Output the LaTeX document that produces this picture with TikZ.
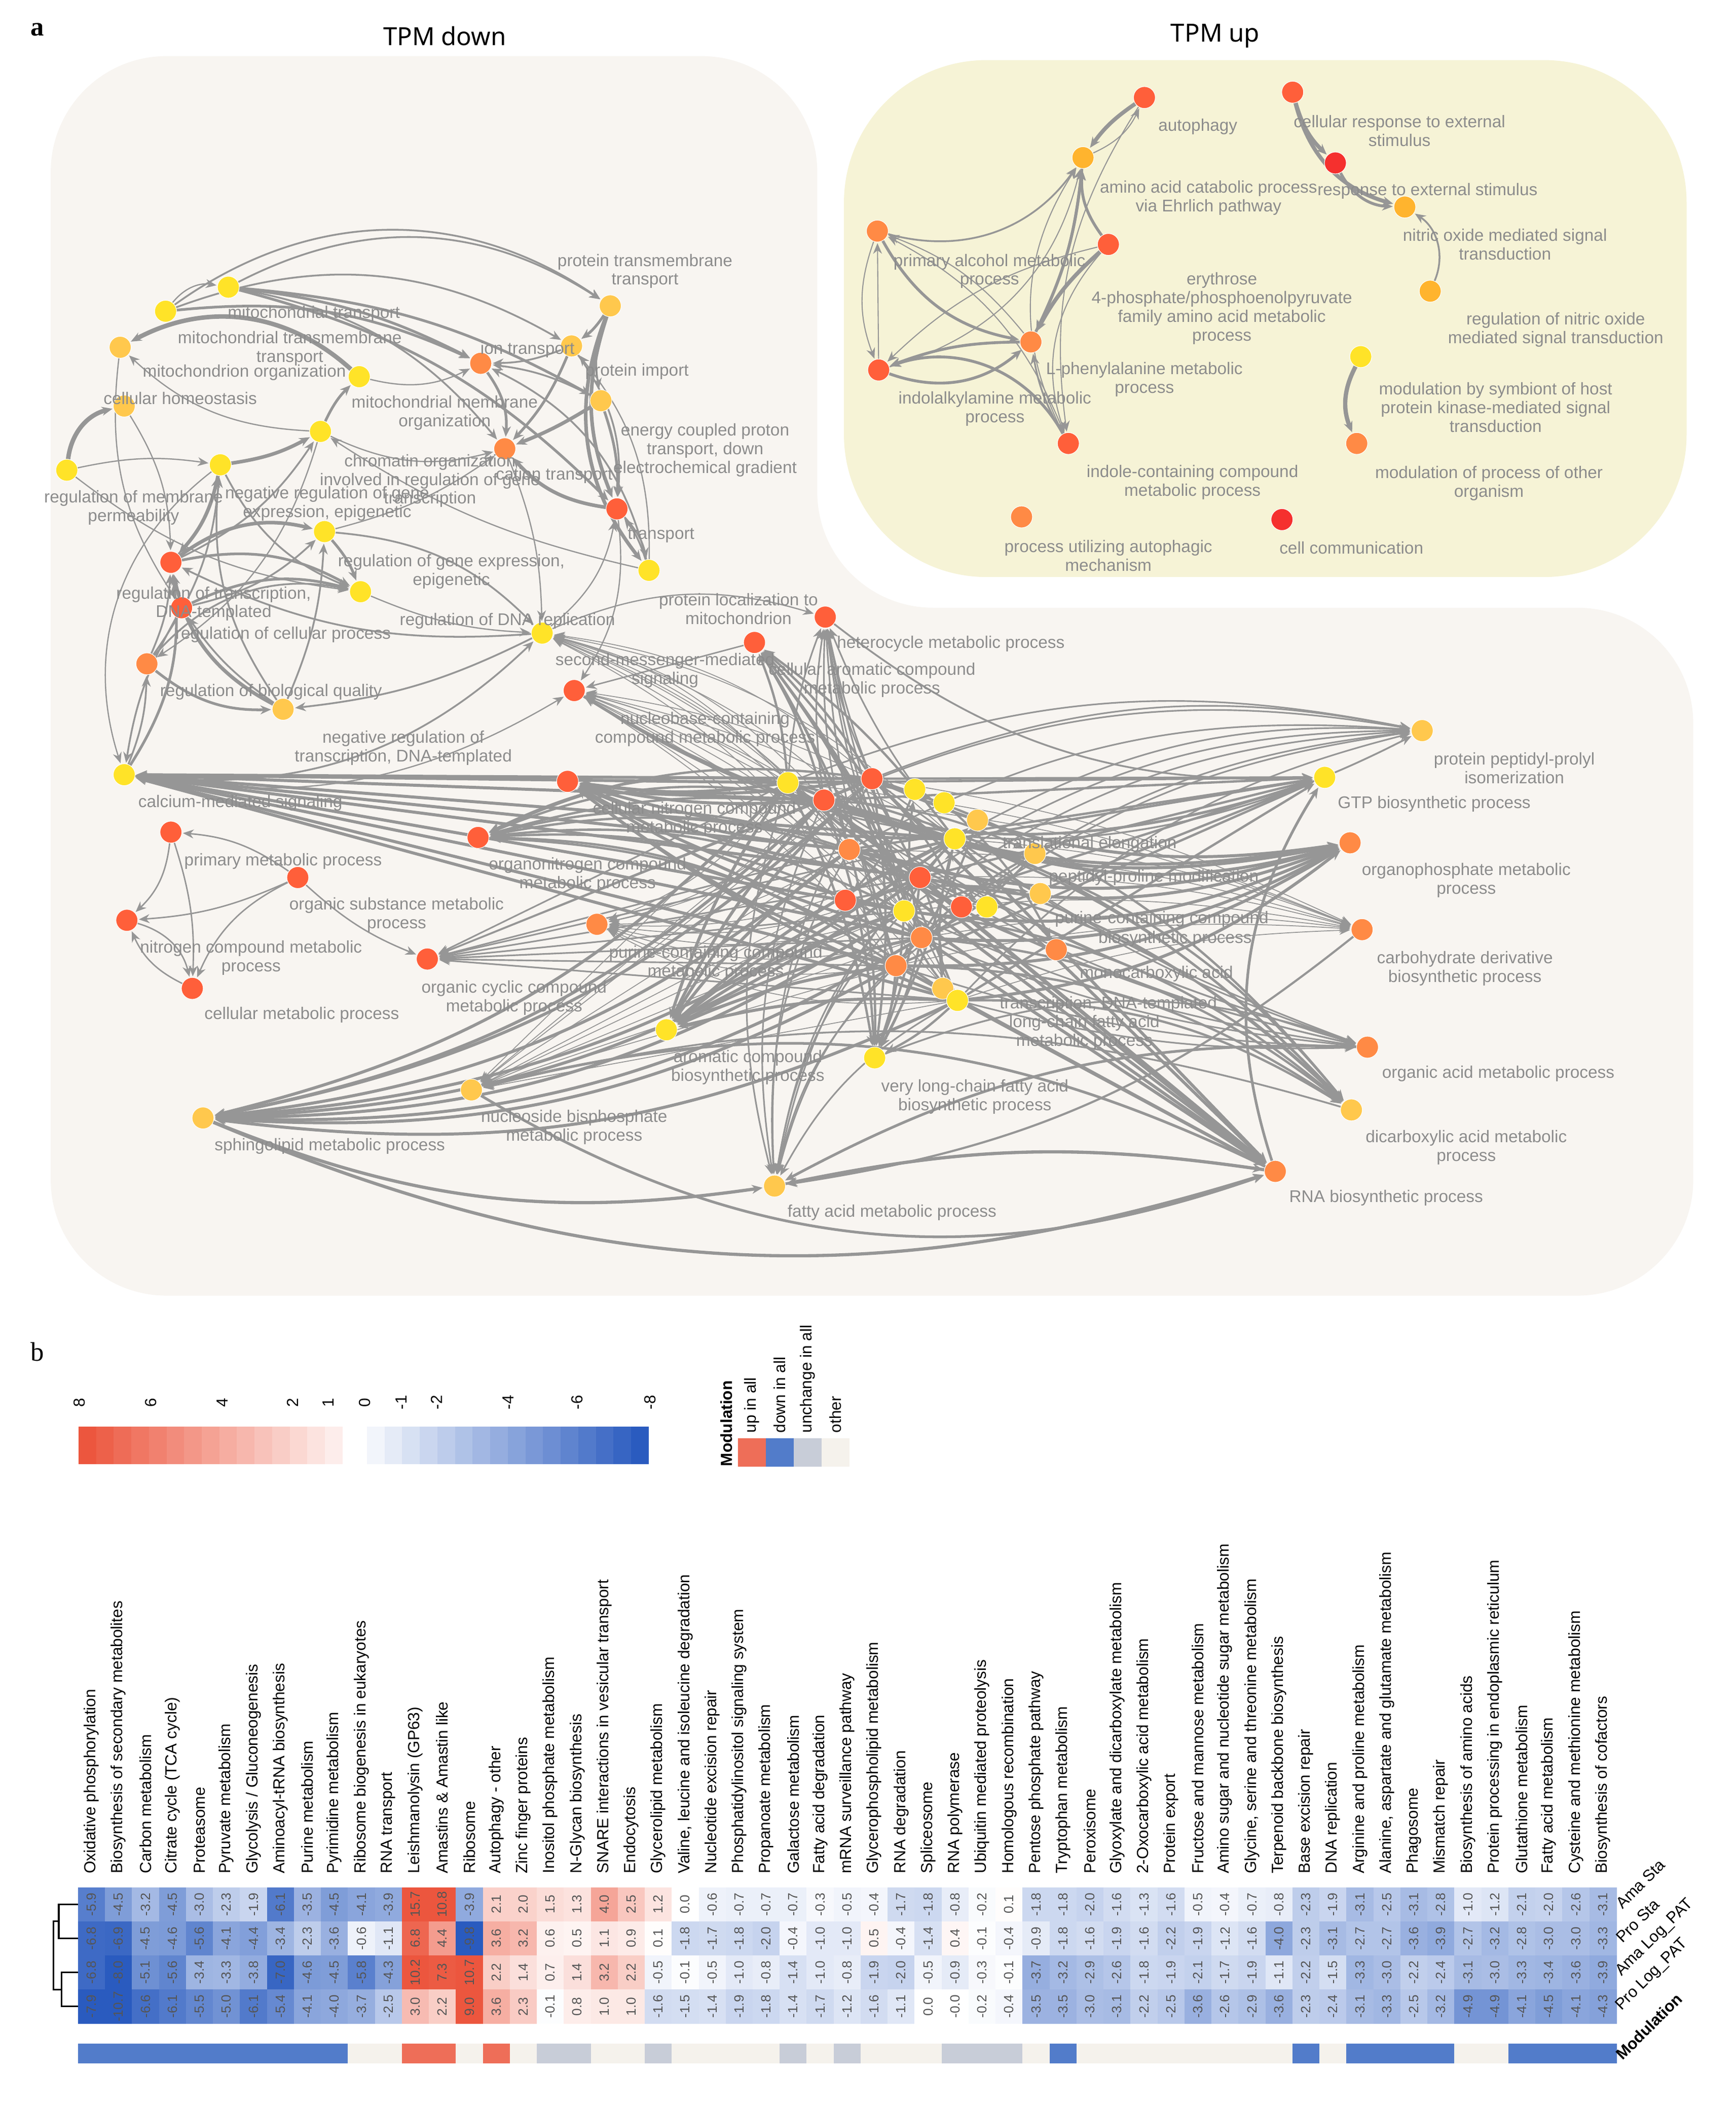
\documentclass[tikz,border=0pt]{standalone}
\usepackage{fontspec}
\setmainfont{Liberation Sans}
\newfontfamily\serifa{Liberation Serif}
\newfontfamily\titf{Noto Sans}
\usetikzlibrary{arrows.meta,shapes.geometric}
\pgfdeclarelayer{back}
\pgfdeclarelayer{bg}
\pgfsetlayers{back,bg,main}
\definecolor{downbg}{RGB}{248,245,241}
\definecolor{upbg}{RGB}{246,243,214}
\definecolor{cY}{RGB}{255,227,40}
\definecolor{cG}{RGB}{255,200,77}
\definecolor{cA}{RGB}{255,180,46}
\definecolor{cO}{RGB}{255,138,69}
\definecolor{cR}{RGB}{255,95,58}
\definecolor{cRR}{RGB}{245,48,46}
\definecolor{egray}{RGB}{150,150,150}
\definecolor{lgray}{RGB}{140,140,140}
\definecolor{hr}{RGB}{236,86,62}
\definecolor{hb}{RGB}{42,91,191}
\definecolor{mred}{RGB}{238,110,88}
\definecolor{mblue}{RGB}{82,124,202}
\definecolor{mgrey}{RGB}{200,205,216}
\definecolor{mbeige}{RGB}{245,242,236}
\definecolor{vtext}{RGB}{85,85,85}
\tikzset{
 nd/.style={circle,minimum size=4.3mm,inner sep=0pt,draw=white,line width=0.3pt},
 lbl/.style={text=lgray,font=\fontsize{9.5}{10.5}\selectfont,align=center,inner sep=0pt},
 edge/.style={draw=egray,-{Stealth[length=6pt,width=5pt]},line width=0.7pt,shorten >=0.5pt},
 colhead/.style={rotate=90,anchor=west,font=\fontsize{9}{10}\selectfont,inner sep=0pt},
 val/.style={rotate=90,font=\fontsize{7.5}{8}\selectfont,text=vtext,inner sep=0pt},
 rowlab/.style={rotate=45,anchor=west,font=\fontsize{9}{10}\selectfont,inner sep=0pt},
 ttl/.style={font=\titf\fontsize{14}{16}\selectfont}
}
\begin{document}
\begin{tikzpicture}[x=0.2635mm,y=-0.2635mm]
\useasboundingbox (0,0) rectangle (1300,1579);
\begin{pgfonlayer}{back}
\fill[white] (0,0) rectangle (1300,1579);
\fill[downbg,rounded corners=65] (38,970) -- (38,42) -- (612,42) -- (612,455) -- (1268,455) -- (1268,970) -- cycle;
\fill[upbg,rounded corners=80] (632,45) rectangle (1263,432);
\end{pgfonlayer}
\node[font=\serifa\bfseries\fontsize{15}{16}\selectfont] (pa) at (28,22) {a};
\node[font=\serifa\fontsize{15}{16}\selectfont] (pb) at (28,1012) {b};
\node[ttl] (tdown) at (333,27) {TPM down};
\node[ttl] (tup) at (910,27) {TPM up};
% ---------- nodes
\foreach \n/\x/\y/\c in {a1/171/215/cY,a2/124/233/cY,a3/90/260/cG,a4/457/229/cG,a5/428/259/cG,a6/269/282/cY,a7/93/304/cG,a8/360/272/cO,a9/450/300/cG,a10/240/323/cY,a11/50/352/cY,a12/165/348/cY,a13/378/336/cO,a14/462/381/cR,a15/243/398/cY,a16/128/421/cR,a17/270/443/cY,a18/486/427/cY,a19/136/455/cR,a20/110/497/cO,a21/212/531/cG,a22/406/474/cY,a23/93/580/cY,
b1/128/623/cR,b2/223/657/cR,b3/95/689/cR,b4/144/740/cR,
c1/320/718/cR,c2/358/627/cR,c3/425/585/cR,c4/430/517/cR,c5/565/481/cR,c6/618/462/cR,c7/447/692/cO,c8/499/771/cY,c9/655/792/cY,c10/580/888/cG,c11/353/816/cG,c12/152/837/cG,
d1/955/877/cO,d2/1012/831/cG,d3/1024/784/cO,d4/1020/696/cO,d5/1011/631/cO,d6/992/582/cY,d7/1065/547/cG,
k1/590/586/cY,k2/617/599/cR,k3/653/583/cR,k4/685/591/cY,k5/707/601/cY,k6/732/614/cG,k7/715/628/cY,k8/775/639/cG,k9/636/636/cO,k10/689/657/cR,k11/633/674/cR,k12/677/682/cY,k13/720/679/cR,k14/739/679/cY,k15/779/669/cG,k16/690/702/cO,k17/791/711/cO,k18/671/723/cO,k19/706/740/cG,k20/717/749/cY,
u1/857/73/cR,u2/811/118/cA,u3/657/173/cO,u4/830/183/cR,u5/772/256/cO,u6/658/277/cR,u7/800/332/cR,u8/765/387/cO,u9/960/389/cRR,u10/968/69/cR,u11/1000/122/cRR,u12/1052/155/cA,u13/1071/218/cA,u14/1019/267/cY,u15/1016/332/cO}
  \node[nd,fill=\c] (\n) at (\x,\y) {};
\begin{pgfonlayer}{bg}
% ---------- edges: up panel
\foreach \a/\b/\bb/\w in {u10/u11/-15/2.2,u10/u12/-30/2.2,u11/u12/-30/1.6,u13/u12/-40/1,u14/u15/-25/2.4,
 u1/u2/-10/2.2,u2/u1/-20/0.6,u3/u2/-35/1,u6/u2/-30/0.6,u4/u2/20/1.6,u5/u2/-10/1.6,u7/u2/30/0.6,u1/u7/-20/0.6,
 u4/u5/-10/2.2,u3/u5/-25/1.6,u2/u5/10/1.6,u6/u3/0/0.6,u5/u6/-10/1.6,u7/u6/-40/1.6,u7/u5/10/1,u4/u6/-15/0.6,u4/u7/-30/0.6,u6/u5/-30/1.6,u3/u6/-20/0.6,u5/u3/-15/0.6,u7/u3/-20/0.6}
  \draw[edge,line width=\w pt] (\a) to[bend left=\bb] (\b);
% ---------- edges: left cluster
\foreach \a/\b/\bb/\w in {a2/a4/35/1,a1/a4/30/1,a2/a1/30/0.7,a2/a8/15/1.5,a1/a8/10/1.5,a1/a9/12/1.5,a1/a14/15/1.5,a2/a5/25/1,a1/a13/20/1,
 a4/a5/10/1.5,a4/a9/-15/1,a4/a14/-20/2,a4/a18/-30/2,a5/a13/10/1.5,a9/a13/5/2,a9/a8/-10/1,a5/a8/10/1,a8/a13/20/1.5,a14/a13/20/2,a18/a14/-10/1,
 a18/a8/-25/1,a18/a10/10/0.7,a18/a5/-20/0.7,a6/a3/-35/2.5,a10/a6/10/1.5,a10/a3/20/0.7,a11/a7/35/2.5,a12/a10/-10/2,a12/a16/15/2,a16/a10/-15/1,
 a16/a15/25/2,a16/a17/20/1.5,a19/a15/-15/1,a19/a17/20/1.5,a20/a16/-10/1,a20/a17/30/1,a21/a16/25/2,a21/a12/20/1,a21/a15/-10/1,a22/a16/15/1,
 a22/a21/10/1,a23/a16/-20/1.5,a23/a22/-25/1,a11/a17/-15/0.7,a11/a12/10/0.7,a10/a20/20/0.7,a7/a16/15/0.7,a12/a17/-20/1,a15/a22/20/1,a13/a22/10/0.7,
 a14/a18/15/1,a6/a8/-20/0.7,a15/a13/-10/0.7,a20/a21/-20/1.5,a19/a23/-10/1,a3/a19/-20/0.7,a17/a22/-10/0.7,a12/a23/-35/0.7,a10/a13/-20/0.7,a20/a12/-15/1,
 a16/a12/-15/1,a15/a17/10/1.5,a21/a19/10/1,a23/a20/-10/1,a22/a14/-20/0.7,a9/a14/10/1.5,a5/a14/20/1}
  \draw[edge,line width=\w pt] (\a) to[bend left=\bb] (\b);
\foreach \a/\b/\bb/\w in {b2/b1/-15/0.8,b2/b3/10/0.8,b2/b4/-20/0.8,b1/b3/20/0.8,b3/b4/30/0.8,b4/b3/20/0.8,b1/b4/10/0.8,b2/c1/-10/0.8}
  \draw[edge,line width=\w pt] (\a) to[bend left=\bb] (\b);
% ---------- edges: central cluster
\foreach \a in {k1,k3,k7,k10,k12,k16,k18,k20,k2,k9}{
  \foreach \b [count=\j] in {d1,d2,d3,d4,d5,d6,d7,c4,c3,c2,c1,c7,c8,c9,c10,c11,c12,c5,c6,a22,a23}{
    \pgfmathtruncatemacro\bb{mod(\j*7,5)*8-16}
    \pgfmathsetmacro\ww{0.5+mod(\j*3,4)*0.4}
    \draw[edge,line width=\ww pt] (\a) to[bend left=\bb] (\b);
  }}
\foreach \a/\b in {k1/k5,k2/k8,k3/k13,k4/k11,k5/k17,k6/k18,k7/k9,k8/k16,k9/k14,k10/k19,k11/k15,k12/k6,k13/k1,k14/k2,k15/k3,k16/k4,k17/k10,k18/k8,k19/k7,k20/k12}
  \draw[edge,line width=1.2pt] (\a) to[bend left=10] (\b);
\foreach \a/\b/\bb/\w in {c12/d1/-20/1.8,c12/c10/-15/1.8,c11/d1/-25/1.5,c10/d1/10/1.5,d1/c10/-10/1.8,d1/c11/-20/1.5,c4/d6/-25/1.5,c4/d7/-30/1,d1/d6/25/1.5,d2/c11/-15/1,c6/d6/-20/1,c5/c4/0/0.8,a22/c6/20/0.7,a14/c4/20/0.7,a23/c4/-20/0.7,d3/c10/-15/1.5,d4/c10/15/1.2,c9/d3/20/1}
  \draw[edge,line width=\w pt] (\a) to[bend left=\bb] (\b);
\end{pgfonlayer}
% ---------- labels
\foreach \n/\x/\y/\t in {
 l1/235/235/mitochondrial transport,
 l2/217/261/{mitochondrial transmembrane\\transport},
 l3/183/279/mitochondrion organization,
 l4/483/203/{protein transmembrane\\transport},
 l5/477/278/protein import,
 l6/395/262/ion transport,
 l7/333/309/{mitochondrial membrane\\organization},
 l8/135/298/cellular homeostasis,
 l9/322/360/{chromatin organization\\involved in regulation of gene\\transcription},
 l10/415/356/cation transport,
 l11/528/337/{energy coupled proton\\transport, down\\electrochemical gradient},
 l12/100/380/{regulation of membrane\\permeability},
 l13/245/377/{negative regulation of gene\\expression, epigenetic},
 l14/495/401/transport,
 l15/338/428/{regulation of gene expression,\\epigenetic},
 l16/160/452/{regulation of transcription,\\DNA-templated},
 l17/212/475/regulation of cellular process,
 l18/380/465/regulation of DNA replication,
 l19/203/518/regulation of biological quality,
 l20/302/560/{negative regulation of\\transcription, DNA-templated},
 l21/180/601/calcium-mediated signaling,
 l22/212/645/primary metabolic process,
 l23/297/685/{organic substance metabolic\\process},
 l24/188/717/{nitrogen compound metabolic\\process},
 l25/226/760/cellular metabolic process,
 l26/385/747/{organic cyclic compound\\metabolic process},
 l27/440/655/{organonitrogen compound\\metabolic process},
 l28/247/858/sphingolipid metabolic process,
 l29/430/844/{nucleoside bisphosphate\\metabolic process},
 l30/668/908/fatty acid metabolic process,
 l31/1038/897/RNA biosynthetic process,
 l32/1098/859/{dicarboxylic acid metabolic\\process},
 l33/1122/804/organic acid metabolic process,
 l34/1097/725/{carbohydrate derivative\\biosynthetic process},
 l35/1098/659/{organophosphate metabolic\\process},
 l36/1074/602/GTP biosynthetic process,
 l37/1134/575/{protein peptidyl-prolyl\\isomerization},
 l38/712/482/heterocycle metabolic process,
 l39/553/456/{protein localization to\\mitochondrion},
 l40/498/502/{second-messenger-mediated\\signaling},
 l41/653/509/{cellular aromatic compound\\metabolic process},
 l42/528/546/{nucleobase-containing\\compound metabolic process},
 l43/520/613/{cellular nitrogen compound\\metabolic process},
 l44/536/721/{purine-containing compound\\metabolic process},
 l45/560/799/{aromatic compound\\biosynthetic process},
 l46/730/821/{very long-chain fatty acid\\biosynthetic process},
 l47/816/632/translational elongation,
 l48/864/657/peptidyl-proline modification,
 l49/870/688/purine-containing compound,
 l50/880/703/biosynthetic process,
 l51/866/729/monocarboxylic acid,
 l52/830/752/{transcription, DNA-templated},
 l53/812/773/{long-chain fatty acid\\metabolic process},
 m1/897/95/autophagy,
 m2/905/148/{amino acid catabolic process\\via Ehrlich pathway},
 m3/741/203/{primary alcohol metabolic\\process},
 m4/915/231/{erythrose\\4-phosphate/phosphoenolpyruvate\\family amino acid metabolic\\process},
 m5/857/284/{L-phenylalanine metabolic\\process},
 m6/745/306/{indolalkylamine metabolic\\process},
 m7/893/361/{indole-containing compound\\metabolic process},
 m8/830/416/{process utilizing autophagic\\mechanism},
 m9/1012/410/cell communication,
 m10/1048/98/{cellular response to external\\stimulus},
 m11/1069/143/response to external stimulus,
 m12/1127/183/{nitric oxide mediated signal\\transduction},
 m13/1165/247/{regulation of nitric oxide\\mediated signal transduction},
 m14/1120/305/{modulation by symbiont of host\\protein kinase-mediated signal\\transduction},
 m15/1115/362/{modulation of process of other\\organism}}
  \node[lbl] (\n) at (\x,\y) {\t};
% ================= part b
\foreach \i in {0,...,14}{
  \pgfmathsetmacro\t{100-\i*6.4}
  \fill[hr!\t!white] (58.8+\i*13.18,1068) rectangle (58.8+\i*13.18+13.3,1096);}
\foreach \i in {0,...,15}{
  \pgfmathsetmacro\t{6+\i*6.27}
  \fill[hb!\t!white] (274.8+\i*13.19,1068) rectangle (274.8+\i*13.19+13.3,1096);}
\foreach \n/\x/\t in {t1/59.6/8,t2/113/6,t3/166.6/4,t4/219/2,t5/246/1,t6/273/0,t7/300.5/-1,t8/327/-2,t9/380.6/-4,t10/432/-6,t11/487/-8}
  \node[rotate=90,font=\fontsize{9}{10}\selectfont] (\n) at (\x,1050) {\t};
\fill[mred] (552.6,1077) rectangle (573.5,1098);
\fill[mblue] (573.5,1077) rectangle (594.4,1098);
\fill[mgrey] (594.4,1077) rectangle (615.2,1098);
\fill[mbeige] (615.2,1077) rectangle (636,1098);
\node[rotate=90,anchor=west,font=\bfseries\fontsize{9}{10}\selectfont,inner sep=0pt] (mlt) at (544,1098) {Modulation};
\foreach \n/\x/\t in {ml1/563/up in all,ml2/584/down in all,ml3/604.8/unchange in all,ml4/625.6/other}
  \node[rotate=90,anchor=west,font=\fontsize{9}{10}\selectfont,inner sep=0pt] (\n) at (\x,1073) {\t};
\foreach \t [count=\i] in {Oxidative phosphorylation,Biosynthesis of secondary metabolites,Carbon metabolism,Citrate cycle (TCA cycle),Proteasome,Pyruvate metabolism,Glycolysis / Gluconeogenesis,Aminoacyl-tRNA biosynthesis,Purine metabolism,Pyrimidine metabolism,Ribosome biogenesis in eukaryotes,RNA transport,Leishmanolysin (GP63),Amastins \& Amastin like,Ribosome,Autophagy - other,Zinc finger proteins,Inositol phosphate metabolism,N-Glycan biosynthesis,SNARE interactions in vesicular transport,Endocytosis,Glycerolipid metabolism,{Valine, leucine and isoleucine degradation},Nucleotide excision repair,Phosphatidylinositol signaling system,Propanoate metabolism,Galactose metabolism,Fatty acid degradation,mRNA surveillance pathway,Glycerophospholipid metabolism,RNA degradation,Spliceosome,RNA polymerase,Ubiquitin mediated proteolysis,Homologous recombination,Pentose phosphate pathway,Tryptophan metabolism,Peroxisome,Glyoxylate and dicarboxylate metabolism,2-Oxocarboxylic acid metabolism,Protein export,Fructose and mannose metabolism,Amino sugar and nucleotide sugar metabolism,{Glycine, serine and threonine metabolism},Terpenoid backbone biosynthesis,Base excision repair,DNA replication,Arginine and proline metabolism,{Alanine, aspartate and glutamate metabolism},Phagosome,Mismatch repair,Biosynthesis of amino acids,Protein processing in endoplasmic reticulum,Glutathione metabolism,Fatty acid metabolism,Cysteine and methionine metabolism,Biosynthesis of cofactors}
  \node[colhead] (h\i) at (58.4+\i*20.21-10.1,1403) {\t};
\def\hmrow#1#2{%
 \foreach \v [count=\i] in {#2}{
  \pgfmathsetmacro\t{min(100,abs(\v)/7.5*100)}
  \pgfmathtruncatemacro\pos{\v>0}
  \ifnum\pos=1 \def\cc{hr}\else\def\cc{hb}\fi
  \fill[\cc!\t!white] (58.4+\i*20.21-20.21,1413+#1*25.5) rectangle (58.4+\i*20.21+0.3,1413+#1*25.5+25.8);
  \node[val] (v#1x\i) at (58.4+\i*20.21-10.1,1413+#1*25.5+12.75) {\v};
 }}
\hmrow{0}{-5.9,-4.5,-3.2,-4.5,-3.0,-2.3,-1.9,-6.1,-3.5,-4.5,-4.1,-3.9,15.7,10.8,-3.9,2.1,2.0,1.5,1.3,4.0,2.5,1.2,0.0,-0.6,-0.7,-0.7,-0.7,-0.3,-0.5,-0.4,-1.7,-1.8,-0.8,-0.2,0.1,-1.8,-1.8,-2.0,-1.6,-1.3,-1.6,-0.5,-0.4,-0.7,-0.8,-2.3,-1.9,-3.1,-2.5,-3.1,-2.8,-1.0,-1.2,-2.1,-2.0,-2.6,-3.1}
\hmrow{1}{-6.8,-6.9,-4.5,-4.6,-5.6,-4.1,-4.4,-3.4,-2.3,-3.6,-0.6,-1.1,6.8,4.4,-9.8,3.6,3.2,0.6,0.5,1.1,0.9,0.1,-1.8,-1.7,-1.8,-2.0,-0.4,-1.0,-1.0,0.5,-0.4,-1.4,0.4,-0.1,-0.4,-0.9,-1.8,-1.6,-1.9,-1.6,-2.2,-1.9,-1.2,-1.6,-4.0,-2.3,-3.1,-2.7,-2.7,-3.6,-3.9,-2.7,-3.2,-2.8,-3.0,-3.0,-3.3}
\hmrow{2}{-6.8,-8.0,-5.1,-5.6,-3.4,-3.3,-3.8,-7.0,-4.6,-4.5,-5.8,-4.3,10.2,7.3,10.7,2.2,1.4,0.7,1.4,3.2,2.2,-0.5,-0.1,-0.5,-1.0,-0.8,-1.4,-1.0,-0.8,-1.9,-2.0,-0.5,-0.9,-0.3,-0.1,-3.7,-3.2,-2.9,-2.6,-1.8,-1.9,-2.1,-1.7,-1.9,-1.1,-2.2,-1.5,-3.3,-3.0,-2.2,-2.4,-3.1,-3.0,-3.3,-3.4,-3.6,-3.9}
\hmrow{3}{-7.9,-10.7,-6.6,-6.1,-5.5,-5.0,-6.1,-5.4,-4.1,-4.0,-3.7,-2.5,3.0,2.2,9.0,3.6,2.3,-0.1,0.8,1.0,1.0,-1.6,-1.5,-1.4,-1.9,-1.8,-1.4,-1.7,-1.2,-1.6,-1.1,0.0,-0.0,-0.2,-0.4,-3.5,-3.5,-3.0,-3.1,-2.2,-2.5,-3.6,-2.6,-2.9,-3.6,-2.3,-2.4,-3.1,-3.3,-2.5,-3.2,-4.9,-4.9,-4.1,-4.5,-4.1,-4.3}
\def\modbar#1{\foreach \c [count=\i] in {#1}
  \fill[\c] (58.4+\i*20.21-20.21,1530) rectangle (58.4+\i*20.21+0.3,1545);}
\modbar{mblue,mblue,mblue,mblue,mblue,mblue,mblue,mblue,mblue,mblue,mbeige,mbeige,mred,mred,mbeige,mred,mbeige,mgrey,mgrey,mbeige,mbeige,mgrey,mbeige,mbeige,mbeige,mbeige,mgrey,mbeige,mgrey,mbeige,mbeige,mbeige,mgrey,mgrey,mgrey,mbeige,mblue,mbeige,mbeige,mbeige,mbeige,mbeige,mbeige,mbeige,mbeige,mblue,mbeige,mblue,mblue,mblue,mblue,mbeige,mbeige,mblue,mblue,mblue,mblue}
\foreach \n/\t [count=\r from 0] in {r1/Ama Sta,r2/Pro Sta,r3/Ama Log\_PAT,r4/Pro Log\_PAT}
  \node[rowlab] (\n) at (1212,1413+\r*25.5+14) {\t};
\node[rowlab,font=\bfseries\fontsize{9}{10}\selectfont] (r5) at (1212,1540) {Modulation};
\draw[line width=0.9pt] (58.4,1425.75) -- (44,1425.75) -- (44,1451.25) -- (58.4,1451.25);
\draw[line width=0.9pt] (58.4,1476.75) -- (46,1476.75) -- (46,1502.25) -- (58.4,1502.25);
\draw[line width=0.9pt] (44,1438.5) -- (40,1438.5) -- (40,1489.5) -- (46,1489.5);
\end{tikzpicture}
\end{document}
